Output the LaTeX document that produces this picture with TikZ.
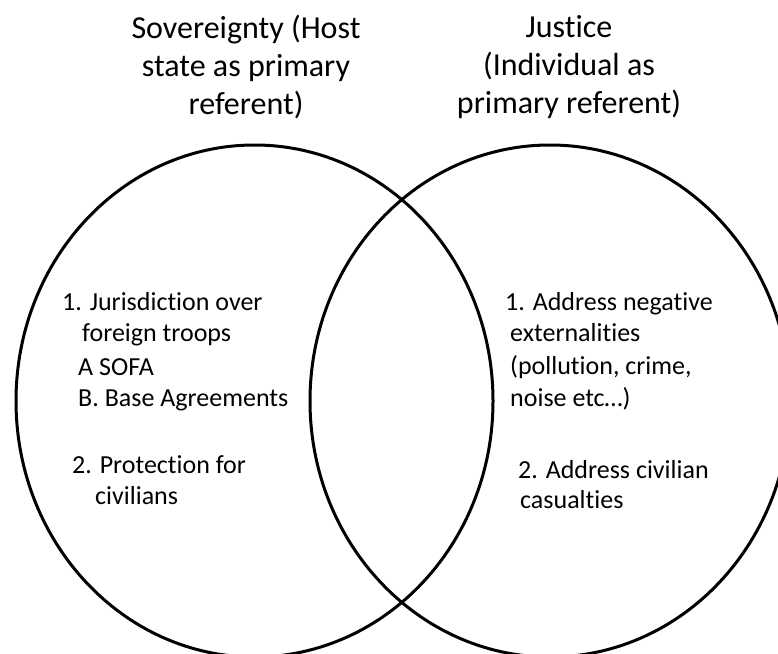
\documentclass[tikz,border=0pt]{standalone}
\usepackage{fontspec}
\setmainfont{Carlito}[Ligatures=NoCommon]
\begin{document}
\begin{tikzpicture}[x=1pt,y=-1pt,
  ring/.style={draw=black,line width=3pt},
  title/.style={align=center,font=\fontsize{32}{38}\selectfont,inner sep=0pt},
  item/.style={anchor=base west,font=\fontsize{26}{31}\selectfont,inner sep=0pt}]
\useasboundingbox (0,0) rectangle (778,653);
\draw[ring] (254.5,401) ellipse [x radius=238.5, y radius=256];
\draw[ring] (550,401) ellipse [x radius=240, y radius=256];
\node[title] (tl) at (246,67) {Sovereignty (Host\\state as primary\\referent)};
\node[title] (tr) at (569,67) {Justice\\(Individual as\\primary referent)};
\node[item] (l1) at (62,310) {1. Jurisdiction over};
\node[item] (l2) at (82,341) {foreign troops};
\node[item] (l3) at (78,375) {A SOFA};
\node[item] (l4) at (78,406) {B. Base Agreements};
\node[item] (l5) at (72,473) {2. Protection for};
\node[item] (l6) at (95,504) {civilians};
\node[item] (r1) at (505,310) {1. Address negative};
\node[item] (r2) at (510,341) {externalities};
\node[item] (r3) at (510,374) {(pollution, crime,};
\node[item] (r4) at (510,406) {noise etc…)};
\node[item] (r5) at (518,478) {2. Address civilian};
\node[item] (r6) at (520,508) {casualties};
\end{tikzpicture}
\end{document}
